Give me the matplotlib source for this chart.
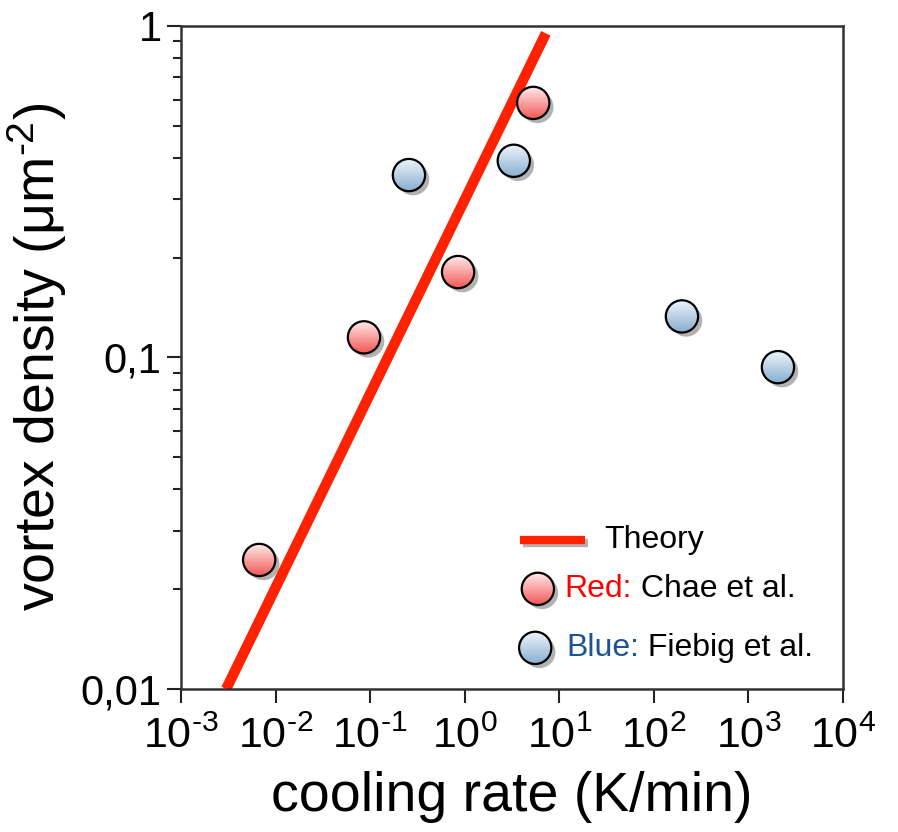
import numpy as np
import matplotlib
matplotlib.use('Agg')
import matplotlib.pyplot as plt
import matplotlib.colors as mcolors
import matplotlib.patheffects as pe
from matplotlib.path import Path

plt.rcParams['font.family'] = ['Liberation Sans', 'DejaVu Sans']
plt.rcParams['mathtext.fontset'] = 'custom'
plt.rcParams['mathtext.rm'] = 'Liberation Sans'
plt.rcParams['mathtext.it'] = 'Liberation Sans:italic'
plt.rcParams['mathtext.bf'] = 'Liberation Sans:bold'

# values
chae_rate = [6.7e-3, 0.086, 0.85, 5.3]
chae_density = [0.0245, 0.115, 0.181, 0.586]
fiebig_rate = [0.257, 3.3, 198, 2050]
fiebig_density = [0.355, 0.392, 0.133, 0.0935]
theory_rate = [3.0e-3, 7.2]
theory_density = [0.01, 0.95]

xticks = [1e-3, 1e-2, 1e-1, 1e0, 1e1, 1e2, 1e3, 1e4]
xtick_labels = ['10$^{\u20103}$', '10$^{\u20102}$', '10$^{\u20101}$', '10$^{0}$',
                '10$^{1}$', '10$^{2}$', '10$^{3}$', '10$^{4}$']
yticks = [0.01, 0.1, 1]
ytick_labels = ['0,01', '0,1', '1']


def cap_marker(y0):
    # part of the unit circle above height y0 (y0=-1 gives the whole disc)
    a = np.arcsin(y0)
    t = np.linspace(a, np.pi - a, 41)
    verts = np.column_stack([np.cos(t), np.sin(t)])
    verts = np.vstack([verts, verts[:1]])
    codes = [Path.MOVETO] + [Path.LINETO] * (len(t) - 1) + [Path.CLOSEPOLY]
    return Path(verts, codes)


def draw_balls(ax, x, y, top, bottom, size=540, transform=None, n=16):
    kw = {} if transform is None else {'transform': transform}
    top = np.array(mcolors.to_rgb(top))
    bottom = np.array(mcolors.to_rgb(bottom))
    for i, y0 in enumerate(np.linspace(-1, 0.85, n)):
        c = bottom + (top - bottom) * i / (n - 1)
        sc = ax.scatter(x, y, s=size, marker=cap_marker(y0), color=[c],
                        linewidths=0, zorder=3, **kw)
        if i == 0:
            sc.set_path_effects([pe.SimplePatchShadow(offset=(3, -3), shadow_rgbFace='k', alpha=0.3),
                                 pe.Normal()])
    ax.scatter(x, y, s=size, marker='o', facecolors='none', edgecolors='k',
               linewidths=1.6, zorder=4, **kw)


fig = plt.figure(figsize=(8.98, 8.32), dpi=100)
ax = fig.add_axes([0.2016, 0.1719, 0.7372, 0.7969])
ax.set_xscale('log')
ax.set_yscale('log')

line_color = '#ff2200'
red_top, red_bottom = '#ffe2e2', '#f25858'
blue_top, blue_bottom = '#e8f0f8', '#88afd0'

ax.plot(theory_rate, theory_density, color=line_color, lw=7.5,
        solid_capstyle='butt', zorder=2)
draw_balls(ax, chae_rate, chae_density, red_top, red_bottom)
draw_balls(ax, fiebig_rate, fiebig_density, blue_top, blue_bottom)

ax.set_xlim(1e-3, 1e4)
ax.set_ylim(0.01, 1)
ax.set_xticks(xticks)
ax.set_xticklabels(xtick_labels)
ax.set_yticks(yticks)
ax.set_yticklabels(ytick_labels)

for s in ax.spines.values():
    s.set_linewidth(1.8)
    s.set_color('#333333')
ax.tick_params(which='both', direction='out', color='#222222', width=1.5,
               top=False, right=False)
ax.tick_params(which='major', length=10)
ax.tick_params(which='minor', length=5.5)
ax.tick_params(axis='x', which='major', labelsize=31, pad=10)
ax.tick_params(axis='y', which='major', labelsize=30, pad=4)

ax.set_xlabel('cooling rate (K/min)', fontsize=40, labelpad=10)
ax.set_ylabel('vortex density (μm$^{\u20102}$)', fontsize=40, labelpad=8)

# legend drawn by hand so the names can have two colours
fs = 23
ax.plot([0.512, 0.610], [0.225, 0.225], transform=ax.transAxes,
        color=line_color, lw=6, solid_capstyle='butt', zorder=3,
        path_effects=[pe.SimpleLineShadow(offset=(2, -2), alpha=0.3), pe.Normal()])
ax.text(0.639, 0.225, 'Theory', transform=ax.transAxes, fontsize=fs, va='center')

draw_balls(ax, [0.539], [0.151], red_top, red_bottom, transform=ax.transAxes)
t = ax.text(0.579, 0.151, 'Red:', transform=ax.transAxes, fontsize=fs,
            va='center', color='#ff0000')
ax.annotate(' Chae et al.', xy=(1, 0), xycoords=t, fontsize=fs, va='bottom', ha='left')

draw_balls(ax, [0.535], [0.062], blue_top, blue_bottom, transform=ax.transAxes)
t = ax.text(0.582, 0.062, 'Blue:', transform=ax.transAxes, fontsize=fs,
            va='center', color='#1a5592')
ax.annotate(' Fiebig et al.', xy=(1, 0), xycoords=t, fontsize=fs, va='bottom', ha='left')

fig.savefig('out.png', dpi=100)
